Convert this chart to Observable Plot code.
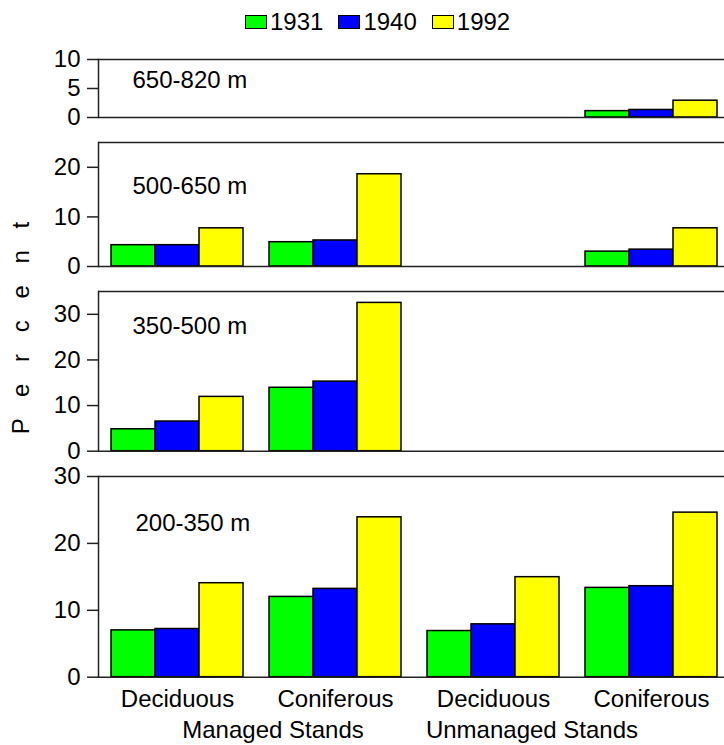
<!DOCTYPE html>
<html><head><meta charset="utf-8">
<script src="https://cdn.jsdelivr.net/npm/d3@7"></script>
<script src="https://cdn.jsdelivr.net/npm/@observablehq/plot@0.6"></script>
<style>
html,body{margin:0;padding:0;background:#fff;overflow:hidden}
#root{position:relative;width:724px;height:745px;overflow:hidden;font-family:"Liberation Sans",Arial,sans-serif;color:#000;background:#fff}
.panel{position:absolute;left:0}
.legend{position:absolute;left:245px;top:10px;display:flex;align-items:center;font-size:24px;line-height:24px;white-space:nowrap}
.legend .item{display:flex;align-items:center;margin-right:15px}
.legend .sw{width:20px;height:12px;border:1.5px solid #000;margin-right:3px}
.stand{position:absolute;font-size:24px;line-height:24px;white-space:nowrap;transform:translateX(-50%)}
.ylab{position:absolute;left:21px;top:328px;font-size:24px;line-height:24px;white-space:nowrap;letter-spacing:7.5px;padding-left:7.5px;transform:translate(-50%,-50%) rotate(-90deg)}
</style></head><body><div id="root"></div>
<script>
// ---- data ----
const groupKeys = ["MD", "MC", "UD", "UC"];
const coverLabels = ["Deciduous", "Coniferous", "Deciduous", "Coniferous"];
const standLabels = ["Managed Stands", "Unmanaged Stands"];
const years = ["1931", "1940", "1992"];
const yearColors = ["#00ff00", "#0000ff", "#ffff00"];
const elevationBands = ["650-820 m", "500-650 m", "350-500 m", "200-350 m"];
const axisLabel = "P e r c e n t";

// values per elevation band, per year, in groupKeys order
const v650_820_1931 = [null, null, null, 1.1];
const v650_820_1940 = [null, null, null, 1.3];
const v650_820_1992 = [null, null, null, 2.9];
const v500_650_1931 = [4.3, 4.9, null, 3.0];
const v500_650_1940 = [4.3, 5.25, null, 3.4];
const v500_650_1992 = [7.7, 18.6, null, 7.7];
const v350_500_1931 = [4.8, 13.9, null, null];
const v350_500_1940 = [6.5, 15.25, null, null];
const v350_500_1992 = [11.9, 32.5, null, null];
const v200_350_1931 = [7.0, 12.0, 6.9, 13.35];
const v200_350_1940 = [7.2, 13.2, 7.9, 13.6];
const v200_350_1992 = [14.05, 23.9, 14.95, 24.6];

const yMax = [10, 25, 35, 30];
const yTicks = [[0, 5, 10], [0, 10, 20], [0, 10, 20, 30], [0, 10, 20, 30]];

const panelValues = [
  [v650_820_1931, v650_820_1940, v650_820_1992],
  [v500_650_1931, v500_650_1940, v500_650_1992],
  [v350_500_1931, v350_500_1940, v350_500_1992],
  [v200_350_1931, v200_350_1940, v200_350_1992]
];

// ---- layout ----
const frameTop = [59, 142, 291, 476];
const frameH = [58, 124, 159.7, 200.7];
const labelDx = [34, 34, 34, 37];
const labelDy = [21, 44, 35, 47];
const FONT = '"Liberation Sans", Arial, sans-serif';
const root = document.getElementById("root");

// legend
const leg = document.createElement("div");
leg.className = "legend";
years.forEach((y, i) => {
  const it = document.createElement("div"); it.className = "item";
  const sw = document.createElement("div"); sw.className = "sw"; sw.style.background = yearColors[i];
  const tx = document.createElement("span"); tx.textContent = y;
  it.appendChild(sw); it.appendChild(tx); leg.appendChild(it);
});
root.appendChild(leg);

panelValues.forEach((vals, p) => {
  const data = [];
  groupKeys.forEach((g, gi) => years.forEach((yr, yi) => data.push({g, year: yr, v: vals[yi][gi]})));
  const last = p === panelValues.length - 1;
  const mt = 16, mb = last ? 40 : 14;
  const marks = [
    Plot.barY(data, {fx: "g", x: "year", y: "v", fill: "year", stroke: "black", strokeWidth: 1.5}),
    Plot.ruleY([0, yMax[p]], {stroke: "#222", strokeWidth: 1.5}),
    Plot.frame({anchor: "left", fx: () => "MD", stroke: "#222", strokeWidth: 1.5}),
    Plot.axisY(yTicks[p], {tickSize: 11, tickPadding: 7, fontSize: 24, stroke: "#222", strokeWidth: 1.5, label: null}),
    Plot.text([elevationBands[p]], {fx: () => "MD", text: d => d, frameAnchor: "top-left", dx: labelDx[p], dy: labelDy[p], lineAnchor: "middle", textAnchor: "start", fontSize: 24})
  ];
  if (last) marks.push(Plot.axisFx({anchor: "bottom", tickSize: 0, tickPadding: 13, fontSize: 24, label: null,
    tickFormat: k => coverLabels[groupKeys.indexOf(k)]}));
  const chart = Plot.plot({
    width: 730, height: mt + frameH[p] + mb,
    marginTop: mt, marginBottom: mb, marginLeft: 98, marginRight: 0,
    style: {fontFamily: FONT, fontSize: "24px", background: "transparent", overflow: "visible", maxWidth: "none", color: "#000"},
    fx: {domain: groupKeys, padding: 0, axis: null, label: null},
    x: {domain: years, paddingInner: 0, paddingOuter: 0.2556, axis: null},
    y: {domain: [0, yMax[p]], axis: null},
    color: {domain: years, range: yearColors},
    marks
  });
  chart.classList.add("panel");
  chart.style.position = "absolute";
  chart.style.top = (frameTop[p] - mt) + "px";
  root.appendChild(chart);
});

// stand labels
const standCenters = [273, 532];
standLabels.forEach((s, i) => {
  const d = document.createElement("div"); d.className = "stand";
  d.textContent = s; d.style.left = standCenters[i] + "px"; d.style.top = "718px";
  root.appendChild(d);
});

// y label
const yl = document.createElement("div"); yl.className = "ylab"; yl.textContent = axisLabel;
root.appendChild(yl);
</script></body></html>
